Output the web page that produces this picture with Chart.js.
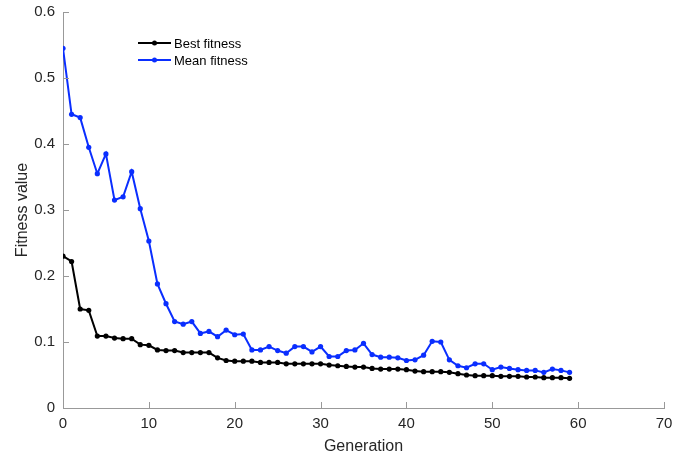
<!DOCTYPE html>
<html>
<head>
<meta charset="utf-8">
<script src="https://cdn.jsdelivr.net/npm/chart.js@4"></script>
<style>
  html, body { margin: 0; padding: 0; background: #fff; }
  #wrap { width: 678px; height: 457px; }
</style>
</head>
<body>
<div id="wrap"><canvas id="myChart" width="678" height="457"></canvas></div>
<script>
const generations = [];
for (let i = 0; i < 60; i++) generations.push(i);

const bestFitness = [
  0.230, 0.222, 0.150, 0.148, 0.109, 0.109, 0.106, 0.105, 0.105, 0.096,
  0.095, 0.088, 0.087, 0.087, 0.084, 0.084, 0.084, 0.084, 0.076, 0.072,
  0.071, 0.071, 0.071, 0.069, 0.069, 0.069, 0.067, 0.067, 0.067, 0.067,
  0.067, 0.065, 0.064, 0.063, 0.062, 0.062, 0.060, 0.059, 0.059, 0.059,
  0.058, 0.056, 0.055, 0.055, 0.055, 0.054, 0.052, 0.050, 0.049, 0.049,
  0.049, 0.048, 0.048, 0.048, 0.047, 0.047, 0.046, 0.046, 0.046, 0.045
];

const meanFitness = [
  0.545, 0.445, 0.440, 0.395, 0.355, 0.385, 0.315, 0.320, 0.358, 0.302,
  0.253, 0.188, 0.158, 0.131, 0.127, 0.131, 0.113, 0.116, 0.108, 0.118,
  0.111, 0.112, 0.088, 0.088, 0.093, 0.087, 0.083, 0.093, 0.093, 0.085,
  0.093, 0.078, 0.078, 0.087, 0.088, 0.098, 0.081, 0.077, 0.077, 0.076,
  0.072, 0.073, 0.080, 0.101, 0.100, 0.073, 0.064, 0.061, 0.067, 0.067,
  0.058, 0.062, 0.060, 0.058, 0.057, 0.057, 0.054, 0.059, 0.057, 0.054
];

const xTicks = [0, 10, 20, 30, 40, 50, 60, 70];
const yTicks = [0, 0.1, 0.2, 0.3, 0.4, 0.5, 0.6];

const axisColor = "#999999";
const textColor = "#262626";
const fontFamily = "'Liberation Sans', Arial, sans-serif";

// inward tick marks, like the original
const innerTicks = {
  id: "innerTicks",
  afterDraw(chart) {
    const { ctx, chartArea, scales } = chart;
    ctx.save();
    ctx.strokeStyle = axisColor;
    ctx.lineWidth = 1;
    xTicks.forEach((v) => {
      const x = Math.round(scales.x.getPixelForValue(v)) + 0.5;
      ctx.beginPath();
      ctx.moveTo(x, chartArea.bottom);
      ctx.lineTo(x, chartArea.bottom - 6);
      ctx.stroke();
    });
    yTicks.forEach((v) => {
      const y = Math.round(scales.y.getPixelForValue(v)) + 0.5;
      ctx.beginPath();
      ctx.moveTo(chartArea.left, y);
      ctx.lineTo(chartArea.left + 6, y);
      ctx.stroke();
    });
    ctx.restore();
  },
};

// legend drawn inside the plot, top left
const insideLegend = {
  id: "insideLegend",
  afterDraw(chart) {
    const { ctx } = chart;
    ctx.save();
    ctx.font = "13px " + fontFamily;
    ctx.textBaseline = "middle";
    chart.data.datasets.forEach((ds, i) => {
      const y = 43 + i * 17;
      ctx.strokeStyle = ds.borderColor;
      ctx.lineWidth = 2;
      ctx.beginPath();
      ctx.moveTo(138, y);
      ctx.lineTo(171, y);
      ctx.stroke();
      ctx.fillStyle = ds.borderColor;
      ctx.beginPath();
      ctx.arc(154.5, y, 2.5, 0, Math.PI * 2);
      ctx.fill();
      ctx.fillStyle = "#000";
      ctx.fillText(ds.label, 174, y + 1);
    });
    ctx.restore();
  },
};

const ctx = document.getElementById("myChart").getContext("2d");

const myChart = new Chart(ctx, {
  type: "line",
  data: {
    labels: generations,
    datasets: [
      {
        label: "Best fitness",
        data: generations.map((g, i) => ({ x: g, y: bestFitness[i] })),
        borderColor: "#000000",
        backgroundColor: "#000000",
        borderWidth: 2,
        pointRadius: 2.6,
        pointHoverRadius: 2.6,
        pointBorderWidth: 0,
        tension: 0,
      },
      {
        label: "Mean fitness",
        data: generations.map((g, i) => ({ x: g, y: meanFitness[i] })),
        borderColor: "#0a2eff",
        backgroundColor: "#0a2eff",
        borderWidth: 2,
        pointRadius: 2.6,
        pointHoverRadius: 2.6,
        pointBorderWidth: 0,
        tension: 0,
      },
    ],
  },
  options: {
    responsive: false,
    animation: false,
    layout: {
      autoPadding: false,
      padding: { top: 12, right: 14, left: 0, bottom: 0 },
    },
    plugins: {
      legend: { display: false },
      tooltip: { enabled: false },
    },
    scales: {
      x: {
        type: "linear",
        min: 0,
        max: 70,
        afterBuildTicks: (scale) => {
          scale.ticks = xTicks.map((v) => ({ value: v }));
        },
        afterFit: (scale) => {
          scale.height = 49;
          scale.paddingLeft = 0;
          scale.paddingRight = 0;
        },
        grid: { display: false, drawTicks: false },
        border: { display: true, color: axisColor, width: 1 },
        ticks: {
          color: textColor,
          padding: 7,
          font: { family: fontFamily, size: 15 },
        },
        title: {
          display: true,
          text: "Generation",
          color: textColor,
          padding: { top: 0, bottom: 1 },
          font: { family: fontFamily, size: 16 },
        },
      },
      y: {
        min: 0,
        max: 0.6,
        afterBuildTicks: (scale) => {
          scale.ticks = yTicks.map((v) => ({ value: v }));
        },
        afterFit: (scale) => {
          scale.width = 63;
          scale.paddingTop = 0;
          scale.paddingBottom = 0;
        },
        grid: { display: false, drawTicks: false },
        border: { display: true, color: axisColor, width: 1 },
        ticks: {
          color: textColor,
          padding: 8,
          font: { family: fontFamily, size: 15 },
          callback: (v) => String(Math.round(v * 10) / 10),
        },
        title: {
          display: true,
          text: "Fitness value",
          color: textColor,
          padding: { top: 13, bottom: 0 },
          font: { family: fontFamily, size: 16 },
        },
      },
    },
  },
  plugins: [innerTicks, insideLegend],
});
</script>
</body>
</html>
